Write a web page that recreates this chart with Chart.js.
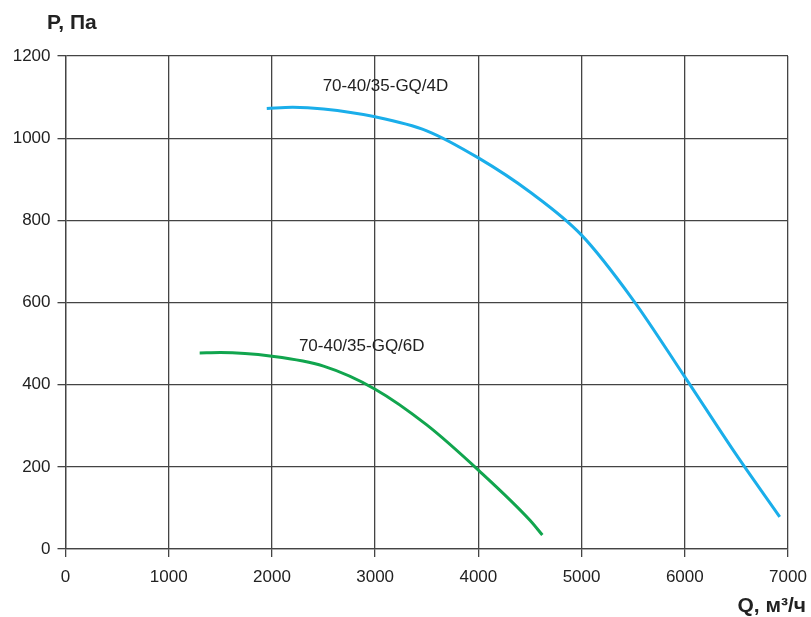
<!DOCTYPE html>
<html>
<head>
<meta charset="utf-8">
<script src="https://cdn.jsdelivr.net/npm/chart.js@4.4.0/dist/chart.umd.min.js"></script>
<style>
  html, body { margin: 0; padding: 0; background: #fff; }
  #wrap { position: relative; width: 811px; height: 617px; }
</style>
</head>
<body>
<div id="wrap"><canvas id="chartFan" width="811" height="617"></canvas></div>
<script>
// curve 70-40/35-GQ/4D
const flow4D = [1950, 2200, 2500, 3000, 3500, 4000, 4500, 5000, 5500, 6000, 6500, 6920];
const pres4D = [1072, 1075, 1071, 1052, 1018, 952, 869, 764, 606, 419, 229, 78];
// curve 70-40/35-GQ/6D
const flow6D = [1300, 1500, 2000, 2500, 3000, 3500, 4000, 4500, 4620];
const pres6D = [477, 478, 469, 445, 389, 302, 192, 70, 34];

const curveLabels = ['70-40/35-GQ/4D', '70-40/35-GQ/6D'];
const labelAt = [[3100, 1127], [2870, 494]];
const xTicks = [0, 1000, 2000, 3000, 4000, 5000, 6000, 7000];
const yTicks = [0, 200, 400, 600, 800, 1000, 1200];

const toPts = (xs, ys) => xs.map((x, i) => ({ x, y: ys[i] }));

// texts on canvas: curve names + axis titles
const textPlugin = {
  id: 'textPlugin',
  afterDraw(chart) {
    const { ctx, scales } = chart;
    ctx.save();
    ctx.fillStyle = '#222';
    ctx.font = '17px "Liberation Sans", Arial, sans-serif';
    ctx.textAlign = 'center';
    ctx.textBaseline = 'middle';
    curveLabels.forEach((t, i) => {
      ctx.fillText(t, scales.x.getPixelForValue(labelAt[i][0]), scales.y.getPixelForValue(labelAt[i][1]));
    });
    ctx.font = 'bold 21px "Liberation Sans", Arial, sans-serif';
    ctx.textAlign = 'left';
    ctx.fillText('P, Па', 47, 23);
    ctx.textAlign = 'right';
    ctx.fillText('Q, м³/ч', 806, 606);
    ctx.restore();
  }
};

const ctx = document.getElementById('chartFan').getContext('2d');
new Chart(ctx, {
  type: 'line',
  data: {
    datasets: [
      { label: curveLabels[0], data: toPts(flow4D, pres4D), borderColor: '#1aaeea', borderWidth: 3, pointRadius: 0, cubicInterpolationMode: 'monotone', fill: false },
      { label: curveLabels[1], data: toPts(flow6D, pres6D), borderColor: '#11a54e', borderWidth: 3, pointRadius: 0, cubicInterpolationMode: 'monotone', fill: false }
    ]
  },
  options: {
    responsive: false,
    animation: false,
    layout: { padding: { left: 0, right: 23, top: 56, bottom: 0 } },
    plugins: { legend: { display: false }, tooltip: { enabled: false } },
    scales: {
      x: {
        type: 'linear', min: 0, max: 7000,
        afterBuildTicks: (s) => { s.ticks = xTicks.map(v => ({ value: v })); },
        afterFit: (s) => { s.height = 68; s.paddingRight = 0; s.paddingLeft = 0; },
        grid: { color: '#444', lineWidth: 1.3, tickLength: 8 },
        border: { color: '#444', width: 1.3 },
        ticks: { color: '#222', padding: 10, callback: (v) => String(v), font: { size: 17, family: '"Liberation Sans", Arial' } }
      },
      y: {
        min: 0, max: 1200,
        afterBuildTicks: (s) => { s.ticks = yTicks.map(v => ({ value: v })); },
        afterFit: (s) => { s.width = 65.5; s.paddingTop = 0; s.paddingBottom = 0; },
        grid: { color: '#444', lineWidth: 1.3, tickLength: 8 },
        border: { color: '#444', width: 1.3 },
        ticks: { color: '#222', padding: 7, callback: (v) => String(v), font: { size: 17, family: '"Liberation Sans", Arial' } }
      }
    }
  },
  plugins: [textPlugin]
});
</script>
</body>
</html>
